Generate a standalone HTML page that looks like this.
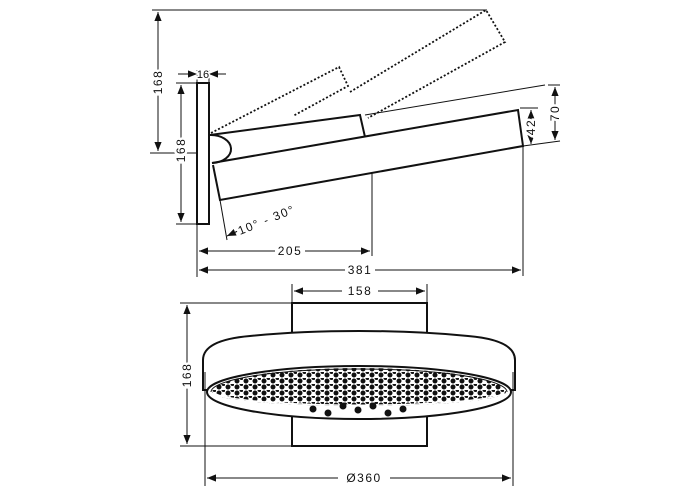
<!DOCTYPE html>
<html><head><style>
html,body{margin:0;padding:0;background:#fff;}
svg{display:block;}
text{font-family:"Liberation Sans",sans-serif;font-size:12px;fill:#111;letter-spacing:1.5px;stroke:#fff;stroke-width:5px;paint-order:stroke;}
</style></head><body>
<svg width="700" height="500" viewBox="0 0 700 500" xmlns="http://www.w3.org/2000/svg">
<defs>
<marker id="a" viewBox="0 0 10 10" refX="10" refY="5" markerWidth="9" markerHeight="9" orient="auto-start-reverse" markerUnits="userSpaceOnUse"><path d="M0,1 L10,5 L0,9 Z" fill="#111"/></marker>
<pattern id="dots" width="9" height="6" patternUnits="userSpaceOnUse"><circle cx="3" cy="3" r="2.5" fill="#111"/><circle cx="7.5" cy="0" r="2" fill="#111"/></pattern>
<clipPath id="face"><path d="M212,392 A147,24 0 0 1 506,392 A147,14 0 0 1 212,392 Z"/></clipPath>
</defs>
<g stroke="#111" fill="none" stroke-width="1">
<line x1="152" y1="10" x2="487" y2="10"/>
<line x1="150" y1="153" x2="196" y2="153"/>
<line x1="158" y1="12" x2="158" y2="151" marker-start="url(#a)" marker-end="url(#a)"/>
<line x1="176" y1="83" x2="197" y2="83"/>
<line x1="176" y1="224" x2="197" y2="224"/>
<line x1="181" y1="85" x2="181" y2="222" marker-start="url(#a)" marker-end="url(#a)"/>
<line x1="178" y1="74" x2="197" y2="74" marker-end="url(#a)"/>
<line x1="226" y1="74" x2="209" y2="74" marker-end="url(#a)"/>
<line x1="197" y1="70" x2="197" y2="83"/>
<line x1="209" y1="70" x2="209" y2="83"/>
<rect x="197" y="83" width="12" height="141" stroke-width="2"/>
<g stroke-dasharray="2,2" stroke-width="1.8">
<polyline points="211,133 339,67 348,86 293,116"/>
<polyline points="350,92 486,10 505,42 368,118"/>
</g>
<g stroke-width="2">
<path d="M210,135 L360,115 L365,137"/>
<path d="M212,163 L518,110 L523,146 L220,200 L213,165"/>
<path d="M210,135 A20,14 0 0 1 212,163"/>
</g>
<line x1="365" y1="115" x2="545" y2="85"/>
<line x1="520" y1="108" x2="538" y2="108"/>
<line x1="523" y1="146" x2="560" y2="141"/>
<line x1="548" y1="85" x2="560" y2="85"/>
<line x1="531" y1="110" x2="531" y2="144" marker-start="url(#a)" marker-end="url(#a)"/>
<line x1="555" y1="87" x2="555" y2="140" marker-start="url(#a)" marker-end="url(#a)"/>
<line x1="220" y1="200" x2="227" y2="240"/>
<line x1="240" y1="230" x2="227" y2="236" marker-end="url(#a)"/>
<line x1="197" y1="224" x2="197" y2="277"/>
<line x1="372" y1="172" x2="372" y2="256"/>
<line x1="523" y1="146" x2="523" y2="276"/>
<line x1="199" y1="251" x2="275" y2="251" marker-start="url(#a)"/>
<line x1="305" y1="251" x2="370" y2="251" marker-end="url(#a)"/>
<line x1="199" y1="270" x2="345" y2="270" marker-start="url(#a)"/>
<line x1="375" y1="270" x2="521" y2="270" marker-end="url(#a)"/>
<line x1="292" y1="284" x2="292" y2="303"/>
<line x1="427" y1="284" x2="427" y2="303"/>
<line x1="294" y1="291" x2="342" y2="291" marker-start="url(#a)"/>
<line x1="378" y1="291" x2="425" y2="291" marker-end="url(#a)"/>
<line x1="180" y1="303" x2="292" y2="303"/>
<line x1="180" y1="446" x2="292" y2="446"/>
<line x1="187" y1="305" x2="187" y2="444" marker-start="url(#a)" marker-end="url(#a)"/>
<rect x="292" y="303" width="135" height="143" stroke-width="2"/>
<path d="M203,390 L203,360 Q203,340 250,336 Q300,331 359,331 Q418,331 468,336 Q515,340 515,360 L515,390 Z" fill="#fff" stroke-width="2"/>
<path d="M207,392 A152,26 0 0 1 511,392 A152,27 0 0 1 207,392 Z" fill="#fff" stroke-width="2"/>
<path d="M211,392 A148,23 0 0 1 507,392" stroke-width="1"/>
<rect x="200" y="360" width="320" height="50" fill="url(#dots)" stroke="none" clip-path="url(#face)"/>
<path d="M212,395 A147,14 0 0 0 506,395" fill="none" stroke="#fff" stroke-width="9" clip-path="url(#face)"/>
<g fill="#111" stroke="none">
<circle cx="313" cy="409" r="3.5"/><circle cx="328" cy="413" r="3.5"/><circle cx="343" cy="406" r="3.5"/><circle cx="358" cy="410" r="3.5"/><circle cx="373" cy="406" r="3.5"/><circle cx="388" cy="413" r="3.5"/><circle cx="403" cy="409" r="3.5"/>
</g>
<line x1="205" y1="372" x2="205" y2="486"/>
<line x1="513" y1="372" x2="513" y2="486"/>
<line x1="207" y1="478" x2="338" y2="478" marker-start="url(#a)"/>
<line x1="390" y1="478" x2="511" y2="478" marker-end="url(#a)"/>
</g>
<text x="158" y="86" transform="rotate(-90 158 82)" text-anchor="middle">168</text>
<text x="181" y="154" transform="rotate(-90 181 150)" text-anchor="middle">168</text>
<text x="203" y="78" text-anchor="middle" style="font-size:11px;letter-spacing:0;stroke-width:3px">16</text>
<text x="290" y="255" text-anchor="middle">205</text>
<text x="360" y="274" text-anchor="middle">381</text>
<text x="240" y="235" transform="rotate(-22 240 235)">10° - 30°</text>
<text x="531" y="131" transform="rotate(-90 531 127)" text-anchor="middle">42</text>
<text x="555" y="117" transform="rotate(-90 555 113)" text-anchor="middle">70</text>
<text x="360" y="295" text-anchor="middle">158</text>
<text x="187" y="379" transform="rotate(-90 187 375)" text-anchor="middle">168</text>
<text x="364" y="482" text-anchor="middle">Ø360</text>
</svg>
</body></html>
